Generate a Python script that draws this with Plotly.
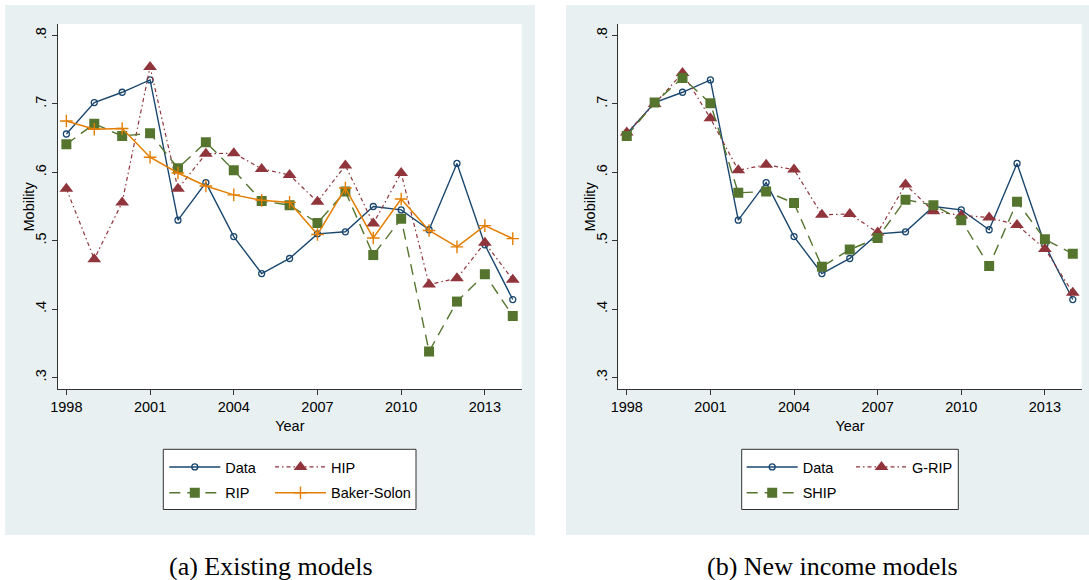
import plotly.graph_objects as go

W, H = 1089, 580

years = [1998, 1999, 2000, 2001, 2002, 2003, 2004, 2005, 2006, 2007, 2008, 2009, 2010, 2011, 2012, 2013, 2014]
data_obs = [0.656, 0.702, 0.717, 0.735, 0.530, 0.585, 0.506, 0.452, 0.474, 0.510, 0.513, 0.550, 0.545, 0.516, 0.613, 0.494, 0.414]
hip = [0.576, 0.473, 0.556, 0.754, 0.576, 0.627, 0.628, 0.605, 0.596, 0.557, 0.610, 0.525, 0.599, 0.436, 0.445, 0.497, 0.443]
rip = [0.641, 0.671, 0.653, 0.657, 0.606, 0.644, 0.603, 0.558, 0.552, 0.526, 0.572, 0.479, 0.532, 0.338, 0.411, 0.451, 0.390]
baker_solon = [0.675, 0.663, 0.664, 0.622, 0.599, 0.580, 0.567, 0.559, 0.556, 0.509, 0.577, 0.504, 0.561, 0.515, 0.491, 0.522, 0.503]
g_rip = [0.658, 0.700, 0.745, 0.679, 0.603, 0.611, 0.604, 0.538, 0.539, 0.512, 0.582, 0.543, 0.537, 0.534, 0.523, 0.488, 0.424]
ship = [0.653, 0.702, 0.738, 0.701, 0.570, 0.572, 0.555, 0.462, 0.487, 0.504, 0.560, 0.552, 0.530, 0.463, 0.557, 0.502, 0.481]

x_tickvals = [1998, 2001, 2004, 2007, 2010, 2013]
y_tickvals = [0.3, 0.4, 0.5, 0.6, 0.7, 0.8]
y_ticktext = [".3", ".4", ".5", ".6", ".7", ".8"]
x_title = "Year"
y_title = "Mobility"
captions = ["(a) Existing models", "(b) New income models"]

NAVY, MAROON, GREEN, ORANGE = "#1a476f", "#90353b", "#55752f", "#e37e00"
BG = "#e9f0f2"
SANS = "Liberation Sans, Arial, sans-serif"
SERIF = "Liberation Serif, Times New Roman, serif"
FS = 14.5


def px(x):
    return x / W


def py(y):
    return 1 - y / H


fig = go.Figure()

STY = {
    "Data": dict(mode="lines+markers", line=dict(color=NAVY, width=1.4),
                 marker=dict(symbol="circle-open", size=6, color=NAVY, line=dict(width=1.3, color=NAVY))),
    "HIP": dict(mode="lines+markers", line=dict(color=MAROON, width=1.2, dash="4px,3px,1.5px,3px"),
                marker=dict(symbol="triangle-up", size=12, color=MAROON)),
    "RIP": dict(mode="lines+markers", line=dict(color=GREEN, width=1.4, dash="11px,7px"),
                marker=dict(symbol="square", size=10, color=GREEN)),
    "Baker-Solon": dict(mode="lines+markers", line=dict(color=ORANGE, width=1.5),
                        marker=dict(symbol="cross-thin", size=9, color=ORANGE, line=dict(width=1.4, color=ORANGE))),
}
STY["G-RIP"] = STY["HIP"]
STY["SHIP"] = STY["RIP"]

left_series = [("Data", data_obs, "legend"), ("HIP", hip, "legend2"), ("RIP", rip, "legend"), ("Baker-Solon", baker_solon, "legend2")]
right_series = [("Data", data_obs, "legend3"), ("G-RIP", g_rip, "legend4"), ("SHIP", ship, "legend3")]

for name, vals, lg in left_series:
    fig.add_trace(go.Scatter(x=years, y=vals, name=name, legend=lg, legendgroup="L" + name,
                             xaxis="x", yaxis="y", **STY[name]))
for name, vals, lg in right_series:
    fig.add_trace(go.Scatter(x=years, y=vals, name=name, legend=lg, legendgroup="R" + name,
                             xaxis="x2", yaxis="y2", **STY[name]))

# geometry (pixels)
PLOT_TOP, PLOT_BOT = 24, 389
L_X0, L_X1 = 58, 521.7
R_X0, R_X1 = 618.4, 1081.7

shapes = []
for x0, x1 in [(5, 535), (566, 1095)]:
    shapes.append(dict(type="rect", xref="paper", yref="paper", x0=px(x0), x1=px(x1), y0=py(535), y1=py(5),
                       fillcolor=BG, line=dict(width=0), layer="below"))
for x0, x1 in [(L_X0, L_X1), (R_X0, R_X1)]:
    shapes.append(dict(type="rect", xref="paper", yref="paper", x0=px(x0), x1=px(x1), y0=py(PLOT_BOT), y1=py(PLOT_TOP),
                       fillcolor="white", line=dict(width=0), layer="below"))
for x0, x1 in [(163.3, 416), (741.7, 958.3)]:
    shapes.append(dict(type="rect", xref="paper", yref="paper", x0=px(x0), x1=px(x1), y0=py(509.5), y1=py(449.3),
                       fillcolor="white", line=dict(width=1, color="#333333"), layer="below"))

axis_common = dict(showline=True, linecolor="#333333", linewidth=1, ticks="outside", ticklen=5,
                   tickcolor="#333333", tickwidth=1, showgrid=False, zeroline=False, mirror=False,
                   tickfont=dict(family=SANS, size=FS, color="black"),
                   title_font=dict(family=SANS, size=FS, color="black"), automargin=False)

xr = [1997.70, 2014.32]
yr = [0.2832, 0.8168]
fig.update_layout(
    xaxis=dict(domain=[px(L_X0), px(L_X1)], range=xr, tickvals=x_tickvals, anchor="y",
               title=dict(text=x_title, standoff=6), **axis_common),
    yaxis=dict(domain=[py(PLOT_BOT), py(PLOT_TOP)], range=yr, tickvals=y_tickvals, ticktext=y_ticktext,
               tickangle=-90, anchor="x", **axis_common),
    xaxis2=dict(domain=[px(R_X0), px(R_X1)], range=xr, tickvals=x_tickvals, anchor="y2",
                title=dict(text=x_title, standoff=6), **axis_common),
    yaxis2=dict(domain=[py(PLOT_BOT), py(PLOT_TOP)], range=yr, tickvals=y_tickvals, ticktext=y_ticktext,
                tickangle=-90, anchor="x2", **axis_common),
)

leg_common = dict(orientation="v", bgcolor="rgba(0,0,0,0)", borderwidth=0, itemwidth=51,
                  font=dict(family=SANS, size=FS, color="black"), traceorder="grouped",
                  tracegroupgap=4, xanchor="left", yanchor="top", itemclick=False, itemdoubleclick=False)
LEG_TOP = 451
fig.update_layout(
    legend=dict(x=px(164.3), y=py(LEG_TOP), **leg_common),
    legend2=dict(x=px(270), y=py(LEG_TOP), **leg_common),
    legend3=dict(x=px(741.7), y=py(LEG_TOP), **leg_common),
    legend4=dict(x=px(851), y=py(LEG_TOP), **leg_common),
)

annotations = []
for cx, cap in [(271, captions[0]), (832, captions[1])]:
    annotations.append(dict(text=cap, x=px(cx), y=py(566), xref="paper", yref="paper", showarrow=False,
                            xanchor="center", yanchor="middle", font=dict(family=SERIF, size=26, color="black")))
for tx in [28, 589]:
    annotations.append(dict(text=y_title, x=px(tx), y=py((PLOT_TOP + PLOT_BOT) / 2), xref="paper", yref="paper",
                            showarrow=False, textangle=-90, xanchor="center", yanchor="middle",
                            font=dict(family=SANS, size=FS, color="black")))

fig.update_layout(
    width=W, height=H, margin=dict(l=0, r=0, t=0, b=0, autoexpand=False),
    paper_bgcolor="white", plot_bgcolor="rgba(0,0,0,0)",
    shapes=shapes, annotations=annotations, showlegend=True,
)

fig.write_html("out.html")
